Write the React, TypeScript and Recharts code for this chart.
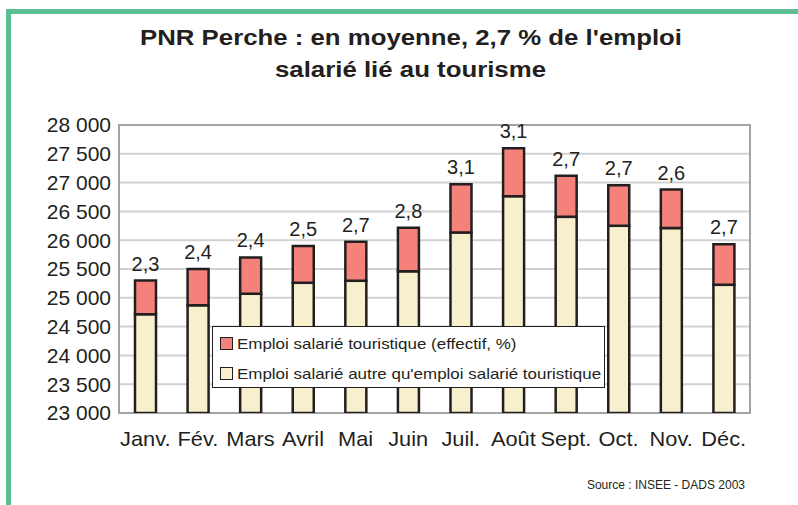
import React from 'react';
import { BarChart, Bar, XAxis, YAxis, CartesianGrid, LabelList, Legend, ReferenceArea } from 'recharts';

const months = ['Janv.', 'Fév.', 'Mars', 'Avril', 'Mai', 'Juin', 'Juil.', 'Août', 'Sept.', 'Oct.', 'Nov.', 'Déc.'];
const otherJobs = [24715, 24870, 25070, 25260, 25295, 25460, 26135, 26765, 26405, 26250, 26210, 25225];
const tourismJobs = [585, 630, 630, 640, 680, 755, 835, 830, 715, 705, 670, 705];
const shareLabels = ['2,3', '2,4', '2,4', '2,5', '2,7', '2,8', '3,1', '3,1', '2,7', '2,7', '2,6', '2,7'];
const yTicks = [23000, 23500, 24000, 24500, 25000, 25500, 26000, 26500, 27000, 27500, 28000];

const data = months.map((m, i) => ({
  month: m,
  other: otherJobs[i],
  tourism: tourismJobs[i],
  label: shareLabels[i],
}));

const FONT = '"Liberation Sans", Arial, sans-serif';
const INK = '#231f20';
const RED = '#f4827a';
const CREAM = '#f8f0cc';

const W = 798;
const H = 505;
const MARGIN = { top: 125, right: 48, left: 19, bottom: 52 };
const Y_AXIS_W = 100;
const HALF_BAND = (W - MARGIN.left - MARGIN.right - Y_AXIS_W) / months.length / 2;

const fmt = (v: number) => String(v).replace(/\B(?=(\d{3})+(?!\d))/g, ' ');

const MonthTick = (props: any) => {
  const { x, y, payload } = props;
  return (
    <g transform={`translate(${x},${y}) scale(1.09,1)`}>
      <text x={0} y={0} dy="0.71em" textAnchor="middle" fontSize={20} fill={INK} fontFamily={FONT}>
        {payload.value}
      </text>
    </g>
  );
};

// lower bar segment, plus the small axis ticks at the category boundaries
const BaseBar = (props: any) => {
  const { x, y, width, height, index } = props;
  const cx = x + width / 2;
  const bottom = y + height;
  return (
    <g>
      <rect x={x} y={y} width={width} height={height} fill={CREAM} stroke={INK} strokeWidth={2.5} />
      <line x1={cx - HALF_BAND} x2={cx - HALF_BAND} y1={bottom} y2={bottom + 6} stroke={INK} strokeWidth={2} />
      {index === months.length - 1 && (
        <line x1={cx + HALF_BAND} x2={cx + HALF_BAND} y1={bottom} y2={bottom + 6} stroke={INK} strokeWidth={2} />
      )}
    </g>
  );
};

const LegendBox = () => (
  <div
    style={{
      width: 391,
      height: 60,
      background: '#fff',
      border: `1.5px solid ${INK}`,
      fontFamily: FONT,
      fontSize: 15,
      color: INK,
      boxSizing: 'content-box',
      textAlign: 'left',
    }}
  >
    {[
      { name: 'Emploi salarié touristique (effectif, %)', color: RED },
      { name: "Emploi salarié autre qu'emploi salarié touristique", color: CREAM },
    ].map((it, i) => (
      <div key={i} style={{ display: 'flex', alignItems: 'center', height: 30, paddingLeft: 7, marginTop: i === 0 ? 1 : 0, whiteSpace: 'nowrap' }}>
        <span style={{ width: 11, height: 11, background: it.color, border: `1.5px solid ${INK}`, marginRight: 4, display: 'inline-block', flex: 'none' }} />
        <span style={{ display: 'inline-block', transform: 'scaleX(1.13)', transformOrigin: 'left center' }}>{it.name}</span>
      </div>
    ))}
  </div>
);

export default function App() {
  return (
    <div style={{ position: 'absolute', left: 0, top: 0, width: W, height: H, background: '#fff', fontFamily: FONT }}>
      <svg width={W} height={H} style={{ position: 'absolute', left: 0, top: 0 }}>
        <rect x={6} y={9} width={792} height={5} fill="#5cbf93" />
        <rect x={6} y={9} width={5} height={496} fill="#5cbf93" />
        <text x={140} y={44.5} textLength={542} lengthAdjust="spacingAndGlyphs" fontSize={21.5} fontWeight="bold" fill={INK} fontFamily={FONT}>
          PNR Perche : en moyenne, 2,7 % de l'emploi
        </text>
        <text x={275} y={77} textLength={271} lengthAdjust="spacingAndGlyphs" fontSize={21.5} fontWeight="bold" fill={INK} fontFamily={FONT}>
          salarié lié au tourisme
        </text>
        <text x={745} y={489} textAnchor="end" fontSize={12} fill={INK} fontFamily={FONT}>
          Source : INSEE - DADS 2003
        </text>
      </svg>
      <div style={{ position: 'absolute', left: 0, top: 0 }}>
        <BarChart width={W} height={H} data={data} margin={MARGIN} barCategoryGap={0}>
          <CartesianGrid horizontal vertical={false} stroke="#d2d2d2" strokeWidth={2} />
          <ReferenceArea y1={23000} y2={28000} fill="none" stroke="#a3a3a3" strokeWidth={2} />
          <XAxis
            dataKey="month"
            height={40}
            axisLine={false}
            tickLine={false}
            tickSize={0}
            tickMargin={19}
            interval={0}
            tick={<MonthTick />}
          />
          <YAxis
            width={Y_AXIS_W}
            domain={[23000, 28000]}
            ticks={yTicks}
            interval={0}
            allowDataOverflow
            axisLine={false}
            tickLine={false}
            tickSize={0}
            tickMargin={8}
            tickFormatter={fmt}
            tick={{ fontSize: 21, fill: INK, fontFamily: FONT }}
          />
          <Legend
            content={<LegendBox />}
            layout="horizontal"
            verticalAlign="middle"
            align="center"
            wrapperStyle={{ left: 212, top: 326, width: 'auto' }}
          />
          <Bar dataKey="other" stackId="a" barSize={21} fill={CREAM} stroke={INK} strokeWidth={2.5} shape={<BaseBar />} isAnimationActive={false} />
          <Bar dataKey="tourism" stackId="a" barSize={21} fill={RED} stroke={INK} strokeWidth={2.5} isAnimationActive={false}>
            <LabelList dataKey="label" position="top" offset={10} fontSize={20} fill={INK} fontFamily={FONT} />
          </Bar>
        </BarChart>
      </div>
    </div>
  );
}
